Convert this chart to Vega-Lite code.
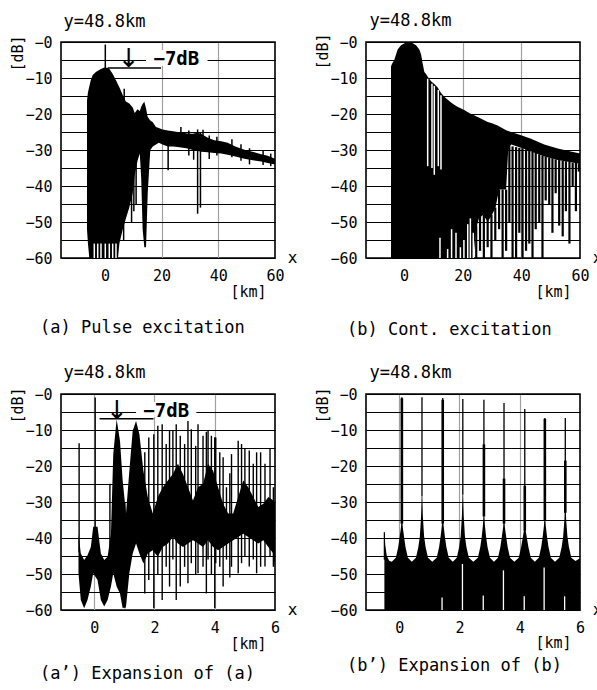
{
"$schema":"https://vega.github.io/schema/vega-lite/v6.json",
"autosize":{"type":"none"},
"padding":{"left":61,"top":42,"right":536,"bottom":648},
"background":"white",
"config":{
 "view":{"stroke":"#000","strokeWidth":1.6},
 "axis":{"domain":false,"ticks":false,"labelFont":"DejaVu Sans Mono","labelFontSize":15,"labelColor":"#000","titleFont":"DejaVu Sans Mono","titleFontWeight":"normal","titleColor":"#000","labelOverlap":false,"labelFlush":false},
 "title":{"font":"DejaVu Sans Mono","fontWeight":"normal","fontSize":17,"color":"#000"}
},
"datasets":{
 "aArea":[
  {"x":-6.33,"y":-16.3,"y2":-52},{"x":-6.0,"y":-14.0,"y2":-56},{"x":-5.5,"y":-12.3,"y2":-60},{"x":-5.0,"y":-10.6,"y2":-60},{"x":-4.3,"y":-9.2,"y2":-60},{"x":-3.2,"y":-8.3,"y2":-60},{"x":-2.5,"y":-8.0,"y2":-60},{"x":-1.4,"y":-7.5,"y2":-60},{"x":-0.2,"y":-7.1,"y2":-60},{"x":1.0,"y":-7.2,"y2":-60},{"x":1.6,"y":-7.5,"y2":-60},{"x":2.7,"y":-8.8,"y2":-60},{"x":3.9,"y":-10.6,"y2":-60},{"x":4.6,"y":-11.8,"y2":-60},{"x":5.1,"y":-12.6,"y2":-56},{"x":6.3,"y":-14.8,"y2":-52},{"x":7.4,"y":-16.5,"y2":-49},{"x":8.6,"y":-17.1,"y2":-46},{"x":9.8,"y":-18.2,"y2":-42},{"x":10.5,"y":-19.7,"y2":-37},{"x":11.5,"y":-18.7,"y2":-33},{"x":12.3,"y":-19.2,"y2":-31},{"x":12.8,"y":-18.0,"y2":-38},{"x":13.3,"y":-17.2,"y2":-52},{"x":13.9,"y":-16.6,"y2":-57},{"x":14.5,"y":-18.5,"y2":-57},{"x":15.1,"y":-20.8,"y2":-42},{"x":16.0,"y":-21.8,"y2":-30},{"x":16.9,"y":-22.3,"y2":-29},{"x":18.0,"y":-23.6,"y2":-28.5},{"x":19.0,"y":-23.9,"y2":-28},{"x":20.3,"y":-24.3,"y2":-28.5},{"x":22.2,"y":-24.6,"y2":-29},{"x":24.0,"y":-24.8,"y2":-29},{"x":25.7,"y":-25.0,"y2":-29.2},{"x":27.5,"y":-25.2,"y2":-29.4},{"x":29.2,"y":-25.4,"y2":-29.6},{"x":31.0,"y":-25.5,"y2":-30.0},{"x":32.5,"y":-25.2,"y2":-30.2},{"x":33.9,"y":-25.5,"y2":-30.5},{"x":36.3,"y":-26.6,"y2":-30.6},{"x":38.6,"y":-27.3,"y2":-30.8},{"x":41.0,"y":-27.6,"y2":-31.0},{"x":43.3,"y":-28.0,"y2":-31.3},{"x":46.0,"y":-29.0,"y2":-31.8},{"x":49.2,"y":-29.9,"y2":-32.4},{"x":52.7,"y":-30.6,"y2":-32.9},{"x":55.1,"y":-31.2,"y2":-33.2},{"x":57.4,"y":-31.6,"y2":-33.6},{"x":60.0,"y":-32.4,"y2":-34.0}
 ],
 "aSpk":[
  {"x":0.13,"y":-0.7,"y2":-8},{"x":6.8,"y":-13.0,"y2":-20},{"x":6.6,"y":-40,"y2":-55},{"x":9.4,"y":-38,"y2":-50},{"x":10.2,"y":-34,"y2":-47},{"x":11.0,"y":-30,"y2":-45},{"x":22.3,"y":-26,"y2":-35.6},{"x":26.8,"y":-23.6,"y2":-28},{"x":29.6,"y":-24.6,"y2":-31.5},{"x":31.3,"y":-26,"y2":-32.7},{"x":32.7,"y":-24.3,"y2":-47.7},{"x":33.7,"y":-25,"y2":-46},{"x":34.6,"y":-24.4,"y2":-29},{"x":36.8,"y":-26,"y2":-32.5},{"x":39.5,"y":-26.3,"y2":-31.5},{"x":44.8,"y":-27.0,"y2":-32},{"x":48.0,"y":-28.4,"y2":-33},{"x":51.0,"y":-29.5,"y2":-34},{"x":55.8,"y":-30.2,"y2":-34.2},{"x":58.5,"y":-31.0,"y2":-34.5}
 ],
 "aWht":[
  {"x":-3.75,"y":-56,"y2":-60},{"x":-2.55,"y":-56,"y2":-60},{"x":-1.39,"y":-56,"y2":-60},{"x":0.13,"y":-56,"y2":-60},{"x":1.54,"y":-56,"y2":-60},{"x":2.74,"y":-56,"y2":-60},{"x":3.9,"y":-56,"y2":-60}
 ],
 "bArea":[
  {"x":-4.47,"y":-6.8,"y2":-60},{"x":-4.2,"y":-6.2,"y2":-60},{"x":-3.34,"y":-4.9,"y2":-60},{"x":-2.2,"y":-2.1,"y2":-60},{"x":-1.06,"y":-0.9,"y2":-60},{"x":0.3,"y":-0.25,"y2":-60},{"x":1.56,"y":-0.05,"y2":-60},{"x":2.8,"y":-0.25,"y2":-60},{"x":4.06,"y":-0.9,"y2":-60},{"x":5.2,"y":-2.1,"y2":-60},{"x":5.8,"y":-3.5,"y2":-60},{"x":6.33,"y":-6.0,"y2":-60},{"x":6.9,"y":-8.3,"y2":-60},{"x":7.47,"y":-8.9,"y2":-60},{"x":8.0,"y":-9.6,"y2":-60},{"x":9.2,"y":-10.9,"y2":-60},{"x":10.3,"y":-11.7,"y2":-60},{"x":11.4,"y":-12.6,"y2":-60},{"x":12.6,"y":-14.2,"y2":-60},{"x":13.7,"y":-15.2,"y2":-60},{"x":14.8,"y":-16.0,"y2":-60},{"x":16.0,"y":-16.8,"y2":-60},{"x":17.1,"y":-17.4,"y2":-60},{"x":18.2,"y":-18.0,"y2":-60},{"x":20.5,"y":-18.9,"y2":-60},{"x":22.8,"y":-20.0,"y2":-60},{"x":23.6,"y":-20.2,"y2":-60},{"x":24.5,"y":-20.6,"y2":-52},{"x":25.5,"y":-21.0,"y2":-49},{"x":27.0,"y":-21.6,"y2":-48},{"x":28.5,"y":-22.2,"y2":-50},{"x":30.0,"y":-22.6,"y2":-48},{"x":31.2,"y":-23.0,"y2":-46},{"x":31.9,"y":-23.2,"y2":-43},{"x":32.5,"y":-23.5,"y2":-41},{"x":34.8,"y":-24.5,"y2":-41},{"x":35.5,"y":-24.7,"y2":-30},{"x":36.5,"y":-25.0,"y2":-28.5},{"x":39.9,"y":-25.9,"y2":-29.4},{"x":43.3,"y":-26.9,"y2":-30.4},{"x":47.8,"y":-28.5,"y2":-31.8},{"x":52.4,"y":-29.6,"y2":-32.8},{"x":56.9,"y":-30.4,"y2":-33.4},{"x":60.0,"y":-31.0,"y2":-33.8}
 ],
 "bComb":[
  {"x":24.6,"y":-51,"y2":-60},{"x":25.9,"y":-48.5,"y2":-58},{"x":27.2,"y":-48,"y2":-60},{"x":28.5,"y":-49.5,"y2":-57},{"x":29.8,"y":-48,"y2":-60},{"x":31.1,"y":-46,"y2":-55},{"x":32.4,"y":-41,"y2":-52},{"x":33.6,"y":-41,"y2":-60},{"x":34.8,"y":-41,"y2":-58},{"x":35.9,"y":-29,"y2":-50},{"x":37.0,"y":-29,"y2":-60},{"x":38.2,"y":-29.2,"y2":-60},{"x":39.3,"y":-29.4,"y2":-53},{"x":40.4,"y":-29.5,"y2":-60},{"x":41.6,"y":-29.8,"y2":-58},{"x":42.7,"y":-30.2,"y2":-56},{"x":43.8,"y":-30.5,"y2":-60},{"x":44.9,"y":-30.8,"y2":-52},{"x":46.1,"y":-31.2,"y2":-50},{"x":47.2,"y":-31.6,"y2":-60},{"x":48.3,"y":-31.9,"y2":-44},{"x":49.5,"y":-32.1,"y2":-45},{"x":50.6,"y":-32.3,"y2":-53},{"x":51.7,"y":-32.6,"y2":-42},{"x":52.9,"y":-32.8,"y2":-51},{"x":54.1,"y":-33.0,"y2":-54},{"x":55.2,"y":-33.1,"y2":-47},{"x":56.4,"y":-33.3,"y2":-56},{"x":57.5,"y":-33.5,"y2":-40},{"x":58.6,"y":-33.6,"y2":-47},{"x":59.6,"y":-33.7,"y2":-36}
 ],
 "bWht":[
  {"x":8.04,"y":-10.2,"y2":-34.5},{"x":9.51,"y":-11.6,"y2":-35},{"x":10.3,"y":-12.2,"y2":-36.9},{"x":11.66,"y":-13.3,"y2":-34.5},{"x":12.58,"y":-14.8,"y2":-35.4},{"x":12.24,"y":-54.4,"y2":-60},{"x":14.85,"y":-57.5,"y2":-60},{"x":16.2,"y":-52,"y2":-60},{"x":17.7,"y":-53,"y2":-60},{"x":19.2,"y":-57,"y2":-60},{"x":20.4,"y":-55,"y2":-60},{"x":21.7,"y":-50.6,"y2":-60},{"x":22.6,"y":-49,"y2":-60},{"x":23.6,"y":-53,"y2":-60}
 ],
 "cArea":[
  {"x":-0.52,"y":-38.8,"y2":-49.8},{"x":-0.443,"y":-44.3,"y2":-57.2},{"x":-0.332,"y":-46.1,"y2":-59.5},{"x":-0.221,"y":-44.8,"y2":-57.2},{"x":-0.11,"y":-42.5,"y2":-53.5},{"x":-0.032,"y":-36.9,"y2":-49.8},{"x":0.112,"y":-36.9,"y2":-51.7},{"x":0.223,"y":-44.3,"y2":-57.2},{"x":0.334,"y":-46.1,"y2":-59.0},{"x":0.446,"y":-45.2,"y2":-57.2},{"x":0.557,"y":-38.8,"y2":-53.5},{"x":0.634,"y":-16.7,"y2":-49.8},{"x":0.746,"y":-7.0,"y2":-53.5},{"x":0.857,"y":-13.0,"y2":-55.4},{"x":0.946,"y":-24.0,"y2":-59.5},{"x":1.057,"y":-33.2,"y2":-59.0},{"x":1.168,"y":-21.3,"y2":-49.8},{"x":1.279,"y":-10.2,"y2":-44.3},{"x":1.39,"y":-7.5,"y2":-41.5},{"x":1.501,"y":-11.2,"y2":-44.3},{"x":1.634,"y":-21.3,"y2":-47.1},{"x":1.779,"y":-28.6,"y2":-44.3},{"x":1.946,"y":-33.2,"y2":-43.4},{"x":2.112,"y":-28.6,"y2":-45.2},{"x":2.279,"y":-25.9,"y2":-42.5},{"x":2.446,"y":-24.0,"y2":-41.5},{"x":2.612,"y":-22.2,"y2":-39.7},{"x":2.779,"y":-19.4,"y2":-41.5},{"x":2.946,"y":-22.2,"y2":-42.5},{"x":3.112,"y":-25.9,"y2":-41.5},{"x":3.279,"y":-29.6,"y2":-40.6},{"x":3.446,"y":-25.9,"y2":-41.5},{"x":3.612,"y":-25.0,"y2":-42.5},{"x":3.779,"y":-19.4,"y2":-40.6},{"x":3.946,"y":-21.3,"y2":-42.5},{"x":4.112,"y":-25.9,"y2":-43.4},{"x":4.279,"y":-30.5,"y2":-42.5},{"x":4.446,"y":-33.2,"y2":-41.5},{"x":4.612,"y":-33.2,"y2":-40.6},{"x":4.779,"y":-28.6,"y2":-39.7},{"x":4.946,"y":-24.0,"y2":-38.8},{"x":5.112,"y":-25.9,"y2":-39.7},{"x":5.279,"y":-28.6,"y2":-40.6},{"x":5.446,"y":-31.4,"y2":-41.5},{"x":5.612,"y":-30.5,"y2":-40.6},{"x":5.779,"y":-28.6,"y2":-42.5},{"x":5.946,"y":-29.6,"y2":-44.3},{"x":6.0,"y":-30,"y2":-48}
 ],
 "cSpk":[
  {"x":-0.499,"y":-13.7,"y2":-44},{"x":0.034,"y":-1.0,"y2":-37},{"x":0.523,"y":-24.9,"y2":-45},{"x":1.02,"y":-30,"y2":-59.5},{"x":1.68,"y":-16.2,"y2":-55.4},{"x":1.812,"y":-12.1,"y2":-51.7},{"x":1.979,"y":-11.2,"y2":-59.5},{"x":2.112,"y":-8.85,"y2":-50},{"x":2.257,"y":-8.4,"y2":-57.2},{"x":2.39,"y":-13.9,"y2":-48},{"x":2.501,"y":-10.2,"y2":-53.5},{"x":2.612,"y":-10.2,"y2":-46},{"x":2.723,"y":-8.4,"y2":-57.2},{"x":2.857,"y":-11.6,"y2":-53.5},{"x":3.001,"y":-13.9,"y2":-48},{"x":3.112,"y":-7.5,"y2":-52.6},{"x":3.223,"y":-9.77,"y2":-47},{"x":3.368,"y":-14.4,"y2":-50},{"x":3.446,"y":-8.4,"y2":-49.8},{"x":3.612,"y":-11.6,"y2":-48},{"x":3.723,"y":-10.5,"y2":-55.4},{"x":3.779,"y":-10.2,"y2":-46},{"x":3.89,"y":-11.6,"y2":-50},{"x":4.001,"y":-12.0,"y2":-59.5},{"x":4.034,"y":-12.1,"y2":-47},{"x":4.168,"y":-16.2,"y2":-48},{"x":4.279,"y":-17.6,"y2":-53.5},{"x":4.39,"y":-25.9,"y2":-46},{"x":4.501,"y":-22,"y2":-51},{"x":4.557,"y":-16.7,"y2":-48},{"x":4.779,"y":-13.0,"y2":-49.8},{"x":4.89,"y":-13.9,"y2":-47},{"x":5.001,"y":-15.3,"y2":-45},{"x":5.146,"y":-15.7,"y2":-47.9},{"x":5.279,"y":-19.4,"y2":-46},{"x":5.39,"y":-16.2,"y2":-49.8},{"x":5.523,"y":-16.2,"y2":-48},{"x":5.668,"y":-19.4,"y2":-47.9},{"x":5.835,"y":-15.3,"y2":-45},{"x":5.946,"y":-25.9,"y2":-48}
 ],
 "dArea":[
  {"x":-0.49,"y":-38.6},{"x":-0.46,"y":-42},{"x":-0.41,"y":-45},{"x":-0.33,"y":-46.3},{"x":-0.245,"y":-46.6},{"x":-0.11,"y":-45.5},{"x":-0.03,"y":-42.5},{"x":0.02,"y":-39.5},{"x":0.06,"y":-37},{"x":0.078,"y":-34.5},{"x":0.102,"y":-34.5},{"x":0.12,"y":-37},{"x":0.16,"y":-39.5},{"x":0.21,"y":-42.5},{"x":0.29,"y":-45.5},{"x":0.42,"y":-46.6},
  {"x":0.557,"y":-45.5},{"x":0.637,"y":-42.5},{"x":0.687,"y":-39.5},{"x":0.727,"y":-34},{"x":0.745,"y":-28.4},{"x":0.769,"y":-28.4},{"x":0.787,"y":-34},{"x":0.827,"y":-39.5},{"x":0.877,"y":-42.5},{"x":0.957,"y":-45.5},{"x":1.1,"y":-46.6},
  {"x":1.246,"y":-45.5},{"x":1.326,"y":-42.5},{"x":1.376,"y":-39.5},{"x":1.416,"y":-36.6},{"x":1.434,"y":-33.8},{"x":1.458,"y":-33.8},{"x":1.476,"y":-36.6},{"x":1.516,"y":-39.5},{"x":1.566,"y":-42.5},{"x":1.646,"y":-45.5},{"x":1.78,"y":-46.6},
  {"x":1.912,"y":-45.5},{"x":1.992,"y":-42.5},{"x":2.042,"y":-39.5},{"x":2.082,"y":-33.8},{"x":2.1,"y":-28},{"x":2.124,"y":-28},{"x":2.142,"y":-33.8},{"x":2.182,"y":-39.5},{"x":2.232,"y":-42.5},{"x":2.312,"y":-45.5},{"x":2.46,"y":-46.6},
  {"x":2.612,"y":-45.5},{"x":2.692,"y":-42.5},{"x":2.742,"y":-39.5},{"x":2.782,"y":-36.2},{"x":2.8,"y":-32.9},{"x":2.824,"y":-32.9},{"x":2.842,"y":-36.2},{"x":2.882,"y":-39.5},{"x":2.932,"y":-42.5},{"x":3.012,"y":-45.5},{"x":3.145,"y":-46.6},
  {"x":3.279,"y":-45.5},{"x":3.359,"y":-42.5},{"x":3.409,"y":-39.5},{"x":3.449,"y":-37.1},{"x":3.467,"y":-34.7},{"x":3.491,"y":-34.7},{"x":3.509,"y":-37.1},{"x":3.549,"y":-39.5},{"x":3.599,"y":-42.5},{"x":3.679,"y":-45.5},{"x":3.82,"y":-46.6},
  {"x":3.968,"y":-45.5},{"x":4.048,"y":-42.5},{"x":4.098,"y":-40},{"x":4.138,"y":-38},{"x":4.156,"y":-36.6},{"x":4.18,"y":-36.6},{"x":4.198,"y":-38},{"x":4.238,"y":-40},{"x":4.288,"y":-42.5},{"x":4.368,"y":-45.5},{"x":4.5,"y":-46.6},
  {"x":4.634,"y":-45.5},{"x":4.714,"y":-42.5},{"x":4.764,"y":-39.5},{"x":4.804,"y":-36.6},{"x":4.822,"y":-33.8},{"x":4.846,"y":-33.8},{"x":4.864,"y":-36.6},{"x":4.904,"y":-39.5},{"x":4.954,"y":-42.5},{"x":5.034,"y":-45.5},{"x":5.17,"y":-46.6},
  {"x":5.312,"y":-45.5},{"x":5.392,"y":-42.5},{"x":5.442,"y":-39.5},{"x":5.482,"y":-35},{"x":5.5,"y":-31},{"x":5.524,"y":-31},{"x":5.542,"y":-35},{"x":5.582,"y":-39.5},{"x":5.632,"y":-42.5},{"x":5.712,"y":-45.5},{"x":5.85,"y":-46.4},{"x":6.0,"y":-45.6}
 ],
 "dThin":[
  {"x":-0.49,"y":-38.4,"y2":-46},{"x":0.09,"y":-0.9,"y2":-34.5},{"x":0.757,"y":-0.9,"y2":-28.4},{"x":1.446,"y":-1.1,"y2":-33.8},{"x":2.112,"y":-1.4,"y2":-28},{"x":2.812,"y":-1.6,"y2":-32.9},{"x":3.479,"y":-2.5,"y2":-34.7},{"x":4.168,"y":-4.2,"y2":-36.6},{"x":4.834,"y":-6.7,"y2":-33.8},{"x":5.512,"y":-6.7,"y2":-31}
 ],
 "dThick":[
  {"x":0.09,"y":-1.2,"y2":-36},{"x":1.446,"y":-1.6,"y2":-36},{"x":2.812,"y":-14,"y2":-34},{"x":3.479,"y":-23.5,"y2":-36},{"x":4.168,"y":-25.5,"y2":-38},{"x":4.834,"y":-6.9,"y2":-35},{"x":5.512,"y":-18.5,"y2":-33}
 ],
 "dWht":[
  {"x":1.423,"y":-56.5,"y2":-60},{"x":2.1,"y":-47.2,"y2":-60},{"x":2.79,"y":-56,"y2":-60},{"x":3.46,"y":-49,"y2":-60},{"x":4.15,"y":-56.2,"y2":-60},{"x":4.81,"y":-48.2,"y2":-60},{"x":5.49,"y":-56.2,"y2":-60}
 ]
},
"concat":[
 {
  "width":214,"height":216,
  "title":{"text":"(a) Pulse excitation","orient":"bottom","anchor":"start","frame":"group","offset":34,"dx":-21,"baseline":"alphabetic"},
  "encoding":{
   "x":{"field":"x","type":"quantitative","scale":{"domain":[-15.5,60],"nice":false,"zero":false},"axis":null},
   "y":{"field":"y","type":"quantitative","scale":{"domain":[-60,0],"nice":false,"zero":false},"axis":null}
  },
  "layer":[
   {"data":{"name":"aArea"},"mark":{"type":"area","color":"#000","clip":true},
    "encoding":{
     "x":{"field":"x","type":"quantitative","scale":{"domain":[-15.5,60],"nice":false,"zero":false},
      "axis":{"orient":"bottom","values":[0,20,40,60],"grid":true,"gridColor":"#a0a0a0","gridWidth":1.2,"gridOpacity":{"condition":{"test":"datum.value == 20 || datum.value == 40","value":1},"value":0},"labelPadding":10,"title":"[km]","titleX":187,"titleY":38,"titleAlign":"center","titleBaseline":"alphabetic","titleFontSize":15}},
     "y":{"field":"y","type":"quantitative","scale":{"domain":[-60,0],"nice":false,"zero":false},
      "axis":{"orient":"left","values":[-60,-55,-50,-45,-40,-35,-30,-25,-20,-15,-10,-5,0],"grid":true,"gridColor":"#000","gridWidth":1.2,"labelExpr":"datum.value % 10 == 0 ? '−' + abs(datum.value) : ''","labelPadding":9,"title":"[dB]","titleAngle":-90,"titleX":-44,"titleY":11,"titleAlign":"center","titleBaseline":"middle","titleFontSize":15}},
     "y2":{"field":"y2"}}},
   {"data":{"name":"aSpk"},"mark":{"type":"rule","color":"#000","strokeWidth":1.5,"clip":true},
    "encoding":{
     "x":{"field":"x","type":"quantitative","scale":{"domain":[-15.5,60],"nice":false,"zero":false},
      "axis":{"orient":"top","domain":false,"ticks":false,"labels":false,"grid":false,"title":"y=48.8km","titleX":2,"titleY":-16,"titleAlign":"left","titleBaseline":"alphabetic","titleFontSize":17}},
     "y":{"field":"y","type":"quantitative","scale":{"domain":[-60,0],"nice":false,"zero":false},
      "axis":{"orient":"right","domain":false,"ticks":false,"labels":false,"grid":false,"title":"x","titleAngle":0,"titleX":17,"titleY":220,"titleAlign":"center","titleBaseline":"alphabetic","titleFontSize":16}},
     "y2":{"field":"y2"}}},
   {"data":{"name":"aWht"},"mark":{"type":"rule","color":"#fff","strokeWidth":1.5,"clip":true},"encoding":{"y2":{"field":"y2"}}},
   {"data":{"values":[{"x":14.5,"x2":36.2,"y":-2.2,"y2":-6.6}]},"mark":{"type":"rect","color":"#fff"},"encoding":{"x2":{"field":"x2"},"y2":{"field":"y2"}}},
   {"data":{"values":[{"x":0.98,"x2":19.8,"y":-7.2}]},"mark":{"type":"rule","color":"#000","strokeWidth":1.5},"encoding":{"x2":{"field":"x2"}}},
   {"data":{"values":[{"x":8.4,"y":-4.6,"t":"↓"}]},"mark":{"type":"text","font":"DejaVu Sans","fontSize":26,"baseline":"middle","color":"#000"},"encoding":{"text":{"field":"t"}}},
   {"data":{"values":[{"x":25.2,"y":-4.6,"t":"−7dB"}]},"mark":{"type":"text","font":"DejaVu Sans Mono","fontSize":19,"fontWeight":"bold","baseline":"middle","color":"#000"},"encoding":{"text":{"field":"t"}}}
  ],
  "resolve":{"axis":{"x":"independent","y":"independent"}}
 },
 {
  "width":214,"height":216,
  "title":{"text":"(b) Cont. excitation","orient":"bottom","anchor":"start","frame":"group","offset":36,"dx":-19,"baseline":"alphabetic"},
  "encoding":{
   "x":{"field":"x","type":"quantitative","scale":{"domain":[-13,60],"nice":false,"zero":false},"axis":null},
   "y":{"field":"y","type":"quantitative","scale":{"domain":[-60,0],"nice":false,"zero":false},"axis":null}
  },
  "layer":[
   {"data":{"name":"bArea"},"mark":{"type":"area","color":"#000","clip":true},
    "encoding":{
     "x":{"field":"x","type":"quantitative","scale":{"domain":[-13,60],"nice":false,"zero":false},
      "axis":{"orient":"bottom","values":[0,20,40,60],"grid":true,"gridColor":"#a0a0a0","gridWidth":1.2,"gridOpacity":{"condition":{"test":"datum.value == 20 || datum.value == 40","value":1},"value":0},"labelPadding":10,"title":"[km]","titleX":187,"titleY":38,"titleAlign":"center","titleBaseline":"alphabetic","titleFontSize":15}},
     "y":{"field":"y","type":"quantitative","scale":{"domain":[-60,0],"nice":false,"zero":false},
      "axis":{"orient":"left","values":[-60,-55,-50,-45,-40,-35,-30,-25,-20,-15,-10,-5,0],"grid":true,"gridColor":"#000","gridWidth":1.2,"labelExpr":"datum.value % 10 == 0 ? '−' + abs(datum.value) : ''","labelPadding":9,"title":"[dB]","titleAngle":-90,"titleX":-44,"titleY":9,"titleAlign":"center","titleBaseline":"middle","titleFontSize":15}},
     "y2":{"field":"y2"}}},
   {"data":{"name":"bComb"},"mark":{"type":"rule","color":"#000","strokeWidth":2.2,"clip":true},
    "encoding":{
     "x":{"field":"x","type":"quantitative","scale":{"domain":[-13,60],"nice":false,"zero":false},
      "axis":{"orient":"top","domain":false,"ticks":false,"labels":false,"grid":false,"title":"y=48.8km","titleX":3,"titleY":-17,"titleAlign":"left","titleBaseline":"alphabetic","titleFontSize":17}},
     "y":{"field":"y","type":"quantitative","scale":{"domain":[-60,0],"nice":false,"zero":false},
      "axis":{"orient":"right","domain":false,"ticks":false,"labels":false,"grid":false,"title":"x","titleAngle":0,"titleX":17,"titleY":220,"titleAlign":"center","titleBaseline":"alphabetic","titleFontSize":16}},
     "y2":{"field":"y2"}}},
   {"data":{"name":"bWht"},"mark":{"type":"rule","color":"#fff","strokeWidth":1.5,"clip":true},"encoding":{"y2":{"field":"y2"}}}
  ],
  "resolve":{"axis":{"x":"independent","y":"independent"}}
 },
 {
  "width":214,"height":216,
  "title":{"text":"(a’) Expansion of (a)","orient":"bottom","anchor":"start","frame":"group","offset":28,"dx":-21,"baseline":"alphabetic"},
  "encoding":{
   "x":{"field":"x","type":"quantitative","scale":{"domain":[-1.1,6],"nice":false,"zero":false},"axis":null},
   "y":{"field":"y","type":"quantitative","scale":{"domain":[-60,0],"nice":false,"zero":false},"axis":null}
  },
  "layer":[
   {"data":{"name":"cArea"},"mark":{"type":"area","color":"#000","clip":true},
    "encoding":{
     "x":{"field":"x","type":"quantitative","scale":{"domain":[-1.1,6],"nice":false,"zero":false},
      "axis":{"orient":"bottom","values":[0,2,4,6],"grid":true,"gridColor":"#a0a0a0","gridWidth":1.2,"gridOpacity":{"condition":{"test":"datum.value < 5","value":1},"value":0},"labelPadding":10,"title":"[km]","titleX":187,"titleY":38,"titleAlign":"center","titleBaseline":"alphabetic","titleFontSize":15}},
     "y":{"field":"y","type":"quantitative","scale":{"domain":[-60,0],"nice":false,"zero":false},
      "axis":{"orient":"left","values":[-60,-55,-50,-45,-40,-35,-30,-25,-20,-15,-10,-5,0],"grid":true,"gridColor":"#000","gridWidth":1.2,"labelExpr":"datum.value % 10 == 0 ? '−' + abs(datum.value) : ''","labelPadding":9,"title":"[dB]","titleAngle":-90,"titleX":-44,"titleY":11,"titleAlign":"center","titleBaseline":"middle","titleFontSize":15}},
     "y2":{"field":"y2"}}},
   {"data":{"name":"cSpk"},"mark":{"type":"rule","color":"#000","strokeWidth":1.4,"clip":true},
    "encoding":{
     "x":{"field":"x","type":"quantitative","scale":{"domain":[-1.1,6],"nice":false,"zero":false},
      "axis":{"orient":"top","domain":false,"ticks":false,"labels":false,"grid":false,"title":"y=48.8km","titleX":2,"titleY":-17,"titleAlign":"left","titleBaseline":"alphabetic","titleFontSize":17}},
     "y":{"field":"y","type":"quantitative","scale":{"domain":[-60,0],"nice":false,"zero":false},
      "axis":{"orient":"right","domain":false,"ticks":false,"labels":false,"grid":false,"title":"x","titleAngle":0,"titleX":17,"titleY":220,"titleAlign":"center","titleBaseline":"alphabetic","titleFontSize":16}},
     "y2":{"field":"y2"}}},
   {"data":{"values":[{"x":1.39,"x2":3.39,"y":-2.2,"y2":-6.4}]},"mark":{"type":"rect","color":"#fff"},"encoding":{"x2":{"field":"x2"},"y2":{"field":"y2"}}},
   {"data":{"values":[{"x":0.18,"x2":1.97,"y":-6.9}]},"mark":{"type":"rule","color":"#000","strokeWidth":1.5},"encoding":{"x2":{"field":"x2"}}},
   {"data":{"values":[{"x":0.757,"y":-4.6,"t":"↓"}]},"mark":{"type":"text","font":"DejaVu Sans","fontSize":26,"baseline":"middle","color":"#000"},"encoding":{"text":{"field":"t"}}},
   {"data":{"values":[{"x":2.39,"y":-4.6,"t":"−7dB"}]},"mark":{"type":"text","font":"DejaVu Sans Mono","fontSize":19,"fontWeight":"bold","baseline":"middle","color":"#000"},"encoding":{"text":{"field":"t"}}}
  ],
  "resolve":{"axis":{"x":"independent","y":"independent"}}
 },
 {
  "width":214,"height":216,
  "title":{"text":"(b’) Expansion of (b)","orient":"bottom","anchor":"start","frame":"group","offset":21,"dx":-19,"baseline":"alphabetic"},
  "encoding":{
   "x":{"field":"x","type":"quantitative","scale":{"domain":[-1.1,6],"nice":false,"zero":false},"axis":null},
   "y":{"field":"y","type":"quantitative","scale":{"domain":[-60,0],"nice":false,"zero":false},"axis":null}
  },
  "layer":[
   {"data":{"name":"dArea"},"mark":{"type":"area","color":"#000","clip":true},
    "encoding":{
     "x":{"field":"x","type":"quantitative","scale":{"domain":[-1.1,6],"nice":false,"zero":false},
      "axis":{"orient":"bottom","values":[0,2,4,6],"grid":true,"gridColor":"#a0a0a0","gridWidth":1.2,"gridOpacity":{"condition":{"test":"datum.value < 5","value":1},"value":0},"labelPadding":10,"title":"[km]","titleX":187,"titleY":37,"titleAlign":"center","titleBaseline":"alphabetic","titleFontSize":15}},
     "y":{"field":"y","type":"quantitative","scale":{"domain":[-60,0],"nice":false,"zero":false},
      "axis":{"orient":"left","values":[-60,-55,-50,-45,-40,-35,-30,-25,-20,-15,-10,-5,0],"grid":true,"gridColor":"#000","gridWidth":1.2,"labelExpr":"datum.value % 10 == 0 ? '−' + abs(datum.value) : ''","labelPadding":9,"title":"[dB]","titleAngle":-90,"titleX":-44,"titleY":11,"titleAlign":"center","titleBaseline":"middle","titleFontSize":15}},
     "y2":{"datum":-60}}},
   {"data":{"name":"dThin"},"mark":{"type":"rule","color":"#000","strokeWidth":1.3,"clip":true},
    "encoding":{
     "x":{"field":"x","type":"quantitative","scale":{"domain":[-1.1,6],"nice":false,"zero":false},
      "axis":{"orient":"top","domain":false,"ticks":false,"labels":false,"grid":false,"title":"y=48.8km","titleX":3,"titleY":-17,"titleAlign":"left","titleBaseline":"alphabetic","titleFontSize":17}},
     "y":{"field":"y","type":"quantitative","scale":{"domain":[-60,0],"nice":false,"zero":false},
      "axis":{"orient":"right","domain":false,"ticks":false,"labels":false,"grid":false,"title":"x","titleAngle":0,"titleX":17,"titleY":220,"titleAlign":"center","titleBaseline":"alphabetic","titleFontSize":16}},
     "y2":{"field":"y2"}}},
   {"data":{"name":"dThick"},"mark":{"type":"rule","color":"#000","strokeWidth":2.6,"clip":true},"encoding":{"y2":{"field":"y2"}}},
   {"data":{"name":"dWht"},"mark":{"type":"rule","color":"#fff","strokeWidth":1.3,"clip":true},"encoding":{"y2":{"field":"y2"}}}
  ],
  "resolve":{"axis":{"x":"independent","y":"independent"}}
 }
],
"columns":2,
"spacing":{"row":136,"column":91},
"bounds":"flush"
}
